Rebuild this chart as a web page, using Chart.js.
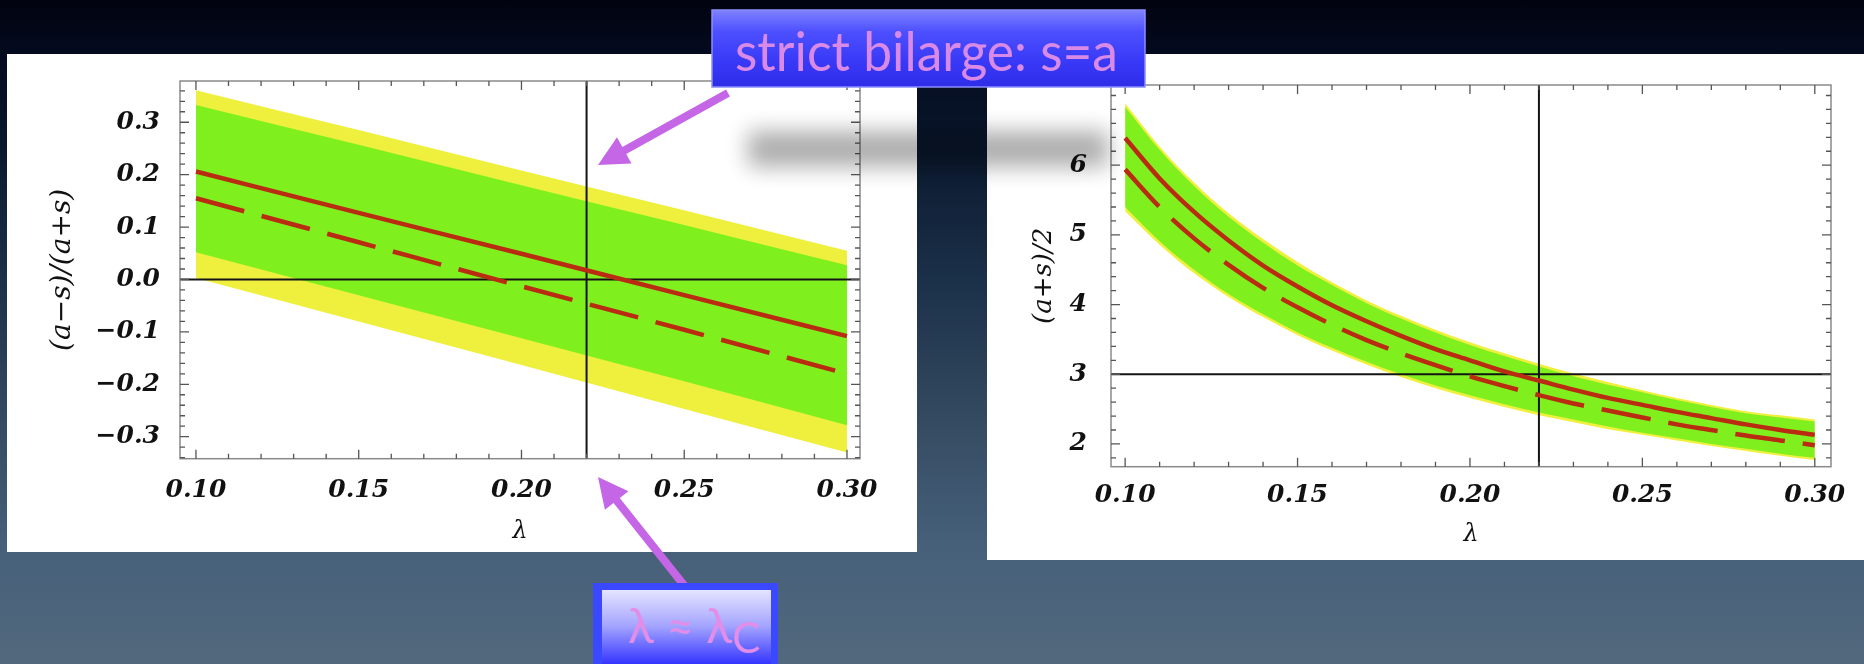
<!DOCTYPE html>
<html>
<head>
<meta charset="utf-8">
<script src="https://cdn.jsdelivr.net/npm/chart.js@4.4.1/dist/chart.umd.min.js"></script>
<style>
  html, body { margin: 0; padding: 0; }
  body {
    width: 1864px; height: 664px; overflow: hidden; position: relative;
    background: linear-gradient(to bottom, #01030f 0%, #040a1e 8%, #0a182e 22%, #1b3049 42%, #33495f 62%, #46607a 82%, #52697d 100%);
  }
  .panel { position: absolute; background: #ffffff; }
  #panelA { left: 7px; top: 54px; width: 910px; height: 498px; }
  #panelB { left: 987px; top: 54px; width: 877px; height: 506px; }
  .panel canvas { display: block; }
  #overlay { position: absolute; left: 0; top: 0; }
</style>
</head>
<body>
<div class="panel" id="panelA"><canvas id="chartA" width="910" height="498"></canvas></div>
<div class="panel" id="panelB"><canvas id="chartB" width="877" height="506"></canvas></div>

<svg id="overlay" width="1864" height="664" xmlns="http://www.w3.org/2000/svg">
  <defs>
    <filter id="soft" x="-30%" y="-150%" width="160%" height="400%">
      <feGaussianBlur stdDeviation="11"/>
    </filter>
    <linearGradient id="boxTop" x1="0" y1="0" x2="0" y2="1">
      <stop offset="0" stop-color="#7f82ff"/>
      <stop offset="0.28" stop-color="#4d50ff"/>
      <stop offset="0.7" stop-color="#3737f6"/>
      <stop offset="1" stop-color="#2e2ee8"/>
    </linearGradient>
    <linearGradient id="boxBottom" x1="0" y1="0" x2="0" y2="1">
      <stop offset="0" stop-color="#e4e4ff"/>
      <stop offset="0.45" stop-color="#a4a4ff"/>
      <stop offset="1" stop-color="#2323ff"/>
    </linearGradient>
  </defs>
  <rect x="748" y="131" width="360" height="36" fill="#000" opacity="0.32" filter="url(#soft)"/>
  <g id="arrows" fill="#c466e6" stroke="#c466e6"></g>
  <rect x="712" y="10" width="433" height="77" fill="url(#boxTop)" stroke="#8c8fff" stroke-width="1.5"/>
  <text x="735" y="71" textLength="383" lengthAdjust="spacingAndGlyphs"
        font-family="Lato, 'Open Sans', sans-serif" font-size="54" fill="#d88ae6">strict bilarge: s=a</text>
  <rect x="593" y="583" width="185" height="90" fill="#3a48ff"/>
  <rect x="602" y="590" width="169" height="80" fill="url(#boxBottom)"/>
  <text x="628" y="643" font-family="Lato, 'Open Sans', sans-serif" font-size="48" fill="#e28ee9">λ ≈ λ<tspan font-size="42" dy="10">C</tspan></text>
</svg>

<script>
// ---------------- left panel: (a−s)/(a+s) against λ ----------------
const lambdaLeft   = [0.10, 0.15, 0.20, 0.25, 0.30];
const leftYellowHi = [0.361, 0.285, 0.208, 0.132, 0.055];
const leftGreenHi  = [0.333, 0.257, 0.180, 0.104, 0.027];
const leftGreenLo  = [0.052, -0.030, -0.112, -0.194, -0.278];
const leftYellowLo = [0.003, -0.080, -0.163, -0.247, -0.330];
const leftSolid    = [0.206, 0.127, 0.049, -0.030, -0.108];
const leftDashed   = [0.155, 0.071, -0.013, -0.096, -0.180];
const leftXTicks   = [0.10, 0.15, 0.20, 0.25, 0.30];
const leftXLabels  = ['0.10', '0.15', '0.20', '0.25', '0.30'];
const leftYTicks   = [-0.3, -0.2, -0.1, 0.0, 0.1, 0.2, 0.3];
const leftYLabels  = ['\u22120.3', '\u22120.2', '\u22120.1', '0.0', '0.1', '0.2', '0.3'];

// ---------------- right panel: (a+s)/2 against λ ----------------
const lambdaRight   = [0.10, 0.11, 0.12, 0.13, 0.14, 0.15, 0.16, 0.17, 0.18, 0.19, 0.20,
                       0.21, 0.22, 0.23, 0.24, 0.25, 0.26, 0.27, 0.28, 0.29, 0.30];
const rightYellowHi = [6.89, 6.27, 5.75, 5.31, 4.94, 4.61, 4.32, 4.06, 3.84, 3.64, 3.46,
                       3.30, 3.15, 3.01, 2.89, 2.77, 2.66, 2.56, 2.47, 2.41, 2.35];
const rightGreenHi  = [6.84, 6.22, 5.70, 5.26, 4.89, 4.56, 4.28, 4.02, 3.80, 3.60, 3.42,
                       3.26, 3.11, 2.97, 2.85, 2.74, 2.63, 2.53, 2.44, 2.38, 2.32];
const rightGreenLo  = [5.40, 4.91, 4.50, 4.15, 3.86, 3.60, 3.38, 3.18, 3.00, 2.84, 2.70,
                       2.57, 2.45, 2.35, 2.25, 2.16, 2.08, 2.00, 1.93, 1.86, 1.80];
const rightYellowLo = [5.34, 4.86, 4.45, 4.11, 3.82, 3.56, 3.34, 3.14, 2.96, 2.80, 2.66,
                       2.53, 2.41, 2.31, 2.21, 2.13, 2.05, 1.97, 1.90, 1.83, 1.77];
const rightSolid    = [6.39, 5.81, 5.33, 4.92, 4.56, 4.26, 3.99, 3.76, 3.55, 3.36, 3.20,
                       3.04, 2.91, 2.78, 2.66, 2.56, 2.46, 2.37, 2.28, 2.20, 2.13];
const rightDashed   = [5.94, 5.40, 4.95, 4.57, 4.24, 3.96, 3.71, 3.49, 3.30, 3.13, 2.97,
                       2.83, 2.70, 2.58, 2.48, 2.38, 2.28, 2.20, 2.12, 2.05, 1.98];
const rightXTicks   = [0.10, 0.15, 0.20, 0.25, 0.30];
const rightXLabels  = ['0.10', '0.15', '0.20', '0.25', '0.30'];
const rightYTicks   = [2, 3, 4, 5, 6];
const rightYLabels  = ['2', '3', '4', '5', '6'];

// reference lines: λ ≈ λ_C and the horizontal guide of each panel
const lambdaC = 0.22;
const leftGuideY = 0.0;
const rightGuideY = 3;

const YELLOW = '#eff03e';
const GREEN = '#7ff01e';
const RED = '#b92c12';

const pts = (xs, ys) => xs.map((x, i) => ({ x: x, y: ys[i] }));

function bandEdge(xs, ys, color, order, fillNext) {
  return {
    data: pts(xs, ys), order: order,
    borderWidth: 0, pointRadius: 0,
    backgroundColor: color,
    fill: fillNext ? '+1' : false,
    cubicInterpolationMode: 'monotone'
  };
}
function curve(xs, ys, dash, order) {
  return {
    data: pts(xs, ys), order: order,
    borderColor: RED, borderWidth: 4.5, borderDash: dash,
    borderCapStyle: 'butt', pointRadius: 0, fill: false,
    cubicInterpolationMode: 'monotone'
  };
}

// Mathematica-style frame: box with inward ticks on all four sides,
// plus the two black guide lines drawn above the bands.
const frameTicks = {
  id: 'frameTicks',
  afterDatasetDraw(chart, args, o) {
    if (args.index !== 3) return;
    const { ctx, chartArea: a, scales: { x, y } } = chart;
    ctx.save();
    ctx.strokeStyle = '#141414';
    ctx.lineWidth = 2;
    ctx.beginPath();
    const px = x.getPixelForValue(o.vLine);
    ctx.moveTo(px, a.top); ctx.lineTo(px, a.bottom);
    const py = y.getPixelForValue(o.hLine);
    ctx.moveTo(a.left, py); ctx.lineTo(a.right, py);
    ctx.stroke();
    ctx.restore();
  },
  afterDraw(chart, args, o) {
    const { ctx, chartArea: a, scales: { x, y } } = chart;
    ctx.save();
    ctx.strokeStyle = '#8a8a8a';
    ctx.lineWidth = 1.5;
    ctx.strokeRect(a.left, a.top, a.right - a.left, a.bottom - a.top);
    ctx.strokeStyle = '#555';
    ctx.lineWidth = 1.3;
    ctx.beginPath();
    const isMajor = (v, list) => list.some(m => Math.abs(m - v) < 1e-6);
    for (let k = Math.ceil(x.min / o.xStep - 1e-9); k * o.xStep <= x.max + 1e-9; k++) {
      const v = k * o.xStep;
      const len = isMajor(v, o.xMajor) ? 9 : 5;
      const p = x.getPixelForValue(v);
      ctx.moveTo(p, a.bottom); ctx.lineTo(p, a.bottom - len);
      ctx.moveTo(p, a.top); ctx.lineTo(p, a.top + len);
    }
    for (let k = Math.ceil(y.min / o.yStep - 1e-9); k * o.yStep <= y.max + 1e-9; k++) {
      const v = k * o.yStep;
      const len = isMajor(v, o.yMajor) ? 9 : 5;
      const p = y.getPixelForValue(v);
      ctx.moveTo(a.left, p); ctx.lineTo(a.left + len, p);
      ctx.moveTo(a.right, p); ctx.lineTo(a.right - len, p);
    }
    ctx.stroke();
    ctx.restore();
  }
};

const tickFont = { family: 'DejaVu Serif', style: 'italic', weight: 'bold', size: 25 };

function makePanel(id, d) {
  return new Chart(document.getElementById(id), {
    type: 'line',
    data: {
      datasets: [
        bandEdge(d.lam, d.yellowHi, YELLOW, 6, true),
        bandEdge(d.lam, d.yellowLo, YELLOW, 5, false),
        bandEdge(d.lam, d.greenHi, GREEN, 4, true),
        bandEdge(d.lam, d.greenLo, GREEN, 3, false),
        curve(d.lam, d.dashed, [50, 18], 2),
        curve(d.lam, d.solid, [], 1)
      ]
    },
    options: {
      responsive: false,
      animation: false,
      events: [],
      layout: { padding: d.pad },
      plugins: {
        legend: { display: false },
        tooltip: { enabled: false },
        frameTicks: { vLine: lambdaC, hLine: d.guideY, xStep: 0.01, yStep: d.yStep,
                      xMajor: d.xTicks, yMajor: d.yTicks }
      },
      scales: {
        x: {
          type: 'linear', min: d.xMin, max: d.xMax,
          grid: { display: false }, border: { display: false },
          afterBuildTicks: s => { s.ticks = d.xTicks.map(v => ({ value: v })); },
          afterFit: s => { s.height = d.xAxisHeight; },
          ticks: { font: tickFont, color: '#111', padding: d.xTickPad, maxRotation: 0,
                   callback: (v, i) => d.xLabels[i] },
          title: { display: true, text: 'λ', color: '#111',
                   font: { family: 'DejaVu Serif', style: 'italic', size: 24 },
                   padding: { top: 0, bottom: d.xTitlePad } }
        },
        y: {
          type: 'linear', min: d.yMin, max: d.yMax,
          grid: { display: false }, border: { display: false },
          afterBuildTicks: s => { s.ticks = d.yTicks.map(v => ({ value: v })); },
          afterFit: s => { s.width = d.yAxisWidth; },
          ticks: { font: tickFont, color: '#111', padding: d.yTickPad,
                   callback: (v, i) => d.yLabels[i] },
          title: { display: true, text: d.yTitle, color: '#111',
                   font: { family: 'DejaVu Serif', style: 'italic', size: d.yTitleSize },
                   padding: { top: d.yTitlePad, bottom: 0 } }
        }
      }
    },
    plugins: [frameTicks]
  });
}

makePanel('chartA', {
  lam: lambdaLeft, yellowHi: leftYellowHi, yellowLo: leftYellowLo,
  greenHi: leftGreenHi, greenLo: leftGreenLo, solid: leftSolid, dashed: leftDashed,
  xTicks: leftXTicks, xLabels: leftXLabels, yTicks: leftYTicks, yLabels: leftYLabels,
  xMin: 0.0951, xMax: 0.304, yMin: -0.342, yMax: 0.3787, yStep: 0.02, guideY: leftGuideY,
  pad: { top: 20, right: 57, bottom: 0, left: 0 },
  xAxisHeight: 93.3, yAxisWidth: 173, xTickPad: 9, yTickPad: 12,
  xTitlePad: 6, yTitle: '(a\u2212s)/(a+s)', yTitleSize: 28, yTitlePad: 39
});

makePanel('chartB', {
  lam: lambdaRight, yellowHi: rightYellowHi, yellowLo: rightYellowLo,
  greenHi: rightGreenHi, greenLo: rightGreenLo, solid: rightSolid, dashed: rightDashed,
  xTicks: rightXTicks, xLabels: rightXLabels, yTicks: rightYTicks, yLabels: rightYLabels,
  xMin: 0.0959, xMax: 0.3047, yMin: 1.673, yMax: 7.151, yStep: 0.2, guideY: rightGuideY,
  pad: { top: 6, right: 33, bottom: 0, left: 0 },
  xAxisHeight: 93.3, yAxisWidth: 124, xTickPad: 6, yTickPad: 16,
  xTitlePad: 11, yTitle: '(a+s)/2', yTitleSize: 26, yTitlePad: 42
});

// pink pointer arrows from the two captions
function arrow(x1, y1, x2, y2, headLen, headHalf, width) {
  const g = document.getElementById('arrows');
  const dx = x2 - x1, dy = y2 - y1, L = Math.hypot(dx, dy);
  const ux = dx / L, uy = dy / L, nx = -uy, ny = ux;
  const bx = x2 - ux * headLen, by = y2 - uy * headLen;
  const NS = 'http://www.w3.org/2000/svg';
  const line = document.createElementNS(NS, 'line');
  line.setAttribute('x1', x1); line.setAttribute('y1', y1);
  line.setAttribute('x2', bx + ux * 2); line.setAttribute('y2', by + uy * 2);
  line.setAttribute('stroke-width', width);
  g.appendChild(line);
  const head = document.createElementNS(NS, 'polygon');
  head.setAttribute('points', [
    [x2, y2], [bx + nx * headHalf, by + ny * headHalf], [bx - nx * headHalf, by - ny * headHalf]
  ].map(p => p.join(',')).join(' '));
  head.setAttribute('stroke', 'none');
  g.appendChild(head);
}
arrow(728, 93, 598, 165, 30, 15, 8);
arrow(687, 589, 598, 477, 30, 15, 8);
</script>
</body>
</html>
